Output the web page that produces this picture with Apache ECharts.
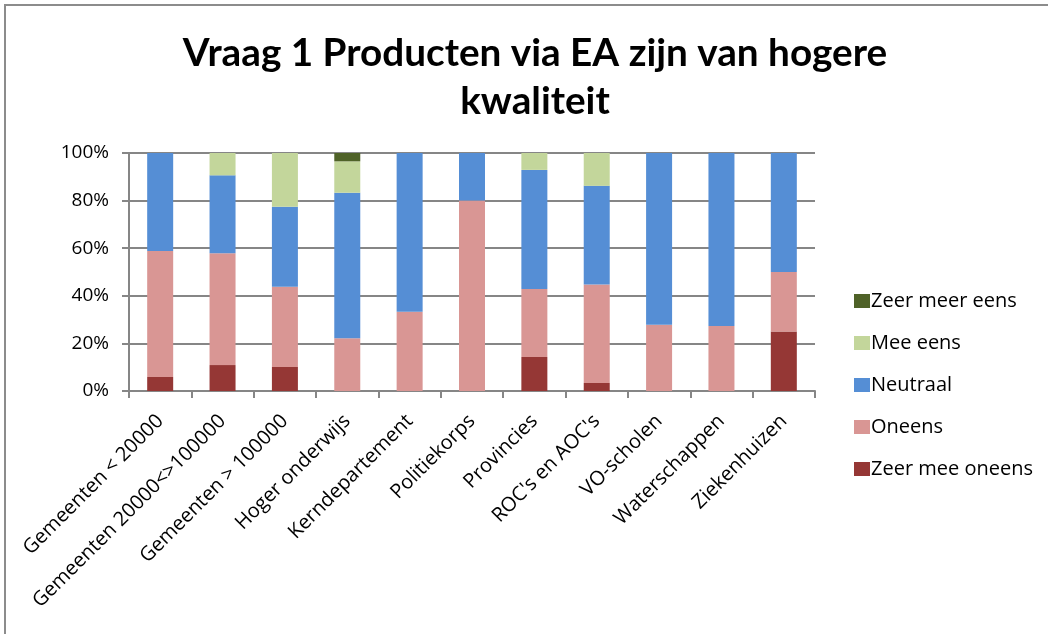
<!DOCTYPE html>
<html>
<head>
<meta charset="utf-8">
<script src="https://cdn.jsdelivr.net/npm/echarts@6/dist/echarts.min.js"></script>
<style>
  html, body { margin: 0; padding: 0; background: #ffffff; }
  #chart { width: 1048px; height: 634px; }
</style>
</head>
<body>
<div id="chart"></div>
<script>
// Survey question 1: share of answers per organisation type (percent)
const categories = [
  'Gemeenten < 20000', 'Gemeenten 20000<>100000', 'Gemeenten > 100000',
  'Hoger onderwijs', 'Kerndepartement', 'Politiekorps', 'Provincies',
  "ROC's en AOC's", 'VO-scholen', 'Waterschappen', 'Ziekenhuizen'
];
const zeerMeeOneens = [5.9, 10.9, 10.1, 0, 0, 0, 14.3, 3.4, 0, 0, 25];
const oneens        = [52.9, 47.0, 33.7, 22.2, 33.3, 80, 28.6, 41.4, 27.8, 27.3, 25];
const neutraal      = [41.2, 32.7, 33.6, 61.1, 66.7, 20, 50.0, 41.4, 72.2, 72.7, 50];
const meeEens       = [0, 9.4, 22.6, 13.2, 0, 0, 7.1, 13.8, 0, 0, 0];
const zeerMeerEens  = [0, 0, 0, 3.5, 0, 0, 0, 0, 0, 0, 0];
const yTicks = [0, 20, 40, 60, 80, 100];

const titleFont = 'Lato, "Open Sans", sans-serif';
const font = '"Open Sans", Lato, sans-serif';
const chart = echarts.init(document.getElementById('chart'));

function bar(name, data, color) {
  return {
    name: name, type: 'bar', stack: 'total', data: data,
    barWidth: 26,
    itemStyle: { color: color },
    emphasis: { disabled: true }
  };
}

chart.setOption({
  animation: false,
  backgroundColor: '#ffffff',
  graphic: [{
    type: 'rect', z: -1,
    shape: { x: 5, y: 5, width: 1200, height: 800 },
    style: { fill: 'none', stroke: '#8c8c8c', lineWidth: 2 }
  }],
  title: {
    text: 'Vraag 1 Producten via EA zijn van hogere\nkwaliteit',
    left: 530, top: 25, textAlign: 'center',
    textStyle: { fontFamily: titleFont, fontWeight: 'bold', fontSize: 38.7, lineHeight: 48, color: '#000' }
  },
  legend: {
    orient: 'vertical', left: 849, top: 286,
    itemWidth: 16, itemHeight: 14, itemGap: 22,
    icon: 'rect',
    textStyle: { fontFamily: font, fontSize: 20, color: '#000', padding: [0, 0, 0, -4] },
    data: ['Zeer meer eens', 'Mee eens', 'Neutraal', 'Oneens', 'Zeer mee oneens']
  },
  grid: { left: 129, right: 233, top: 153, bottom: 243, containLabel: false },
  xAxis: {
    type: 'category', data: categories,
    axisLine: { lineStyle: { color: '#868686', width: 2 } },
    axisTick: { show: true, length: 7, lineStyle: { color: '#868686', width: 2 } },
    axisLabel: {
      interval: 0, rotate: 45, margin: 27,
      fontFamily: font, fontSize: 20, color: '#000'
    }
  },
  yAxis: {
    type: 'value', min: 0, max: 100, interval: 20,
    axisLine: { show: true, lineStyle: { color: '#868686', width: 2 } },
    axisTick: { show: true, length: 7, lineStyle: { color: '#868686', width: 2 } },
    splitLine: { lineStyle: { color: '#868686', width: 2 } },
    axisLabel: {
      margin: 20, fontFamily: font, fontSize: 19, color: '#000',
      formatter: function (v) { return yTicks.indexOf(v) >= 0 ? v + '%' : ''; }
    }
  },
  series: [
    bar('Zeer mee oneens', zeerMeeOneens, '#953735'),
    bar('Oneens', oneens, '#D99694'),
    bar('Neutraal', neutraal, '#558ED5'),
    bar('Mee eens', meeEens, '#C3D69B'),
    bar('Zeer meer eens', zeerMeerEens, '#4F6228')
  ]
});
</script>
</body>
</html>
